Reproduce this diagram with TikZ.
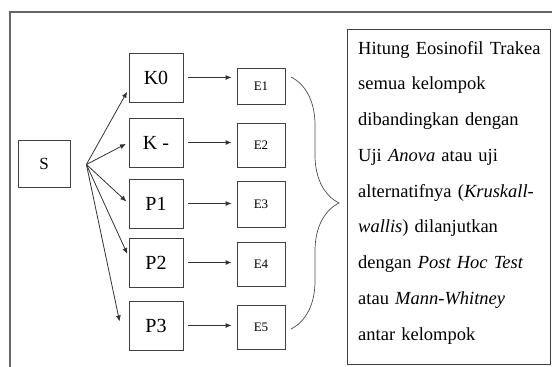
\documentclass[tikz,border=0pt]{standalone}
\usepackage{fontspec}
\setmainfont{Liberation Serif}
\usetikzlibrary{positioning, arrows.meta, decorations.pathreplacing}

\tikzset{
    grp/.style={draw=black!75, line width=0.8pt, minimum width=54pt, minimum height=49pt, inner sep=0pt, font=\fontsize{20}{22}\selectfont},
    ebox/.style={draw=black!75, line width=0.8pt, minimum width=48pt, minimum height=44pt, inner sep=0pt, font=\fontsize{13}{15}\selectfont},
    arr/.style={draw=black!80, line width=0.8pt, -{Latex[length=6pt,width=5pt]}},
}

\begin{document}
\begin{tikzpicture}[x=1pt, y=-1pt]
    \useasboundingbox (0,0) rectangle (552,367);
    % outer frame (cut at right and bottom)
    \draw[line width=1.8pt, black!60] (10,367) -- (10,12) -- (552,12);

    \node[grp, minimum width=52pt, minimum height=47pt, font=\fontsize{17}{19}\selectfont] (S) at (44,163.5) {S};
    \coordinate (fork) at ([xshift=16pt, yshift=-1pt]S.east);

    \node[grp] (K0) at (156,77.5) {K0};
    \node[grp] (Km) at (156,142.5) {K -};
    \node[grp] (P1) at (156,203.5) {P1};
    \node[grp] (P2) at (156,262.5) {P2};
    \node[grp] (P3) at (156,325.5) {P3};

    \node[ebox, minimum height=36pt] (E1) at (261,86.5) {E1};
    \node[ebox] (E2) at (261,145) {E2};
    \node[ebox, minimum height=46pt] (E3) at (261,204) {E3};
    \node[ebox] (E4) at (261,264) {E4};
    \node[ebox] (E5) at (261,327) {E5};

    % fan from S
    \draw[arr, shorten >=3pt] (fork) -- (K0.203);
    \draw[arr, shorten >=3pt] (fork) -- (Km.west);
    \draw[arr, shorten >=3pt] (fork) -- (P1.west);
    \draw[arr, shorten >=3pt] (fork) -- (P2.168);
    \draw[arr] (fork) -- ([xshift=-9pt, yshift=4pt]P3.west);

    % group -> sample
    \foreach \g/\e in {K0/E1, Km/E2, P1/E3, P2/E4, P3/E5}
        \draw[arr, shorten <=5pt, shorten >=5pt] (\g.east) -- (\g.east -| \e.west);

    % brace to the text box
    \coordinate (btop) at (291,77);
    \coordinate (bbot) at (291,329);
    \draw[black!70, line width=0.7pt, decorate, decoration={brace, amplitude=48pt}] (btop) -- (bbot);

    \node[draw=black!75, line width=0.8pt, anchor=north west, minimum width=203pt, minimum height=335pt] (tbox) at (347,29) {};
    \node[anchor=north west, inner sep=0pt, text width=183pt, align=left,
          font=\fontsize{18.5}{35.75}\selectfont] (txt) at ([xshift=11pt, yshift=-12pt]tbox.north west)
        {Hitung Eosinofil Trakea\\
         semua kelompok\\
         dibandingkan dengan\\
         Uji \textit{Anova} atau uji\\
         alternatifnya (\textit{Kruskall-}\\
         \textit{wallis}) dilanjutkan\\
         dengan \textit{Post Hoc Test}\\
         atau \textit{Mann-Whitney}\\
         antar kelompok};
\end{tikzpicture}
\end{document}
